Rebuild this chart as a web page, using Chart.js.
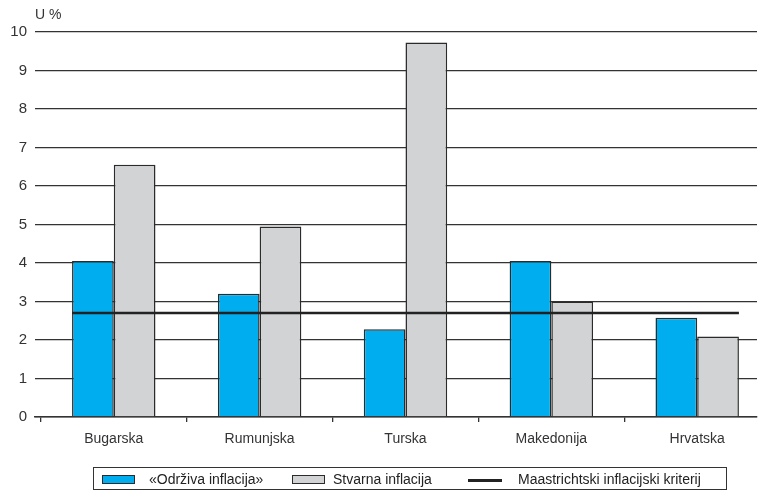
<!DOCTYPE html>
<html>
<head>
<meta charset="utf-8">
<script src="https://cdn.jsdelivr.net/npm/chart.js@4.4.1/dist/chart.umd.min.js"></script>
<style>
  body { margin: 0; background: #fff; font-family: "Liberation Sans", Arial, sans-serif; }
  #wrap { position: relative; width: 760px; height: 492px; overflow: hidden; }
  #unit { position: absolute; left: 35px; top: 7px; font-size: 14px; line-height: 14px; color: #333; }
  #legend { position: absolute; left: 93px; top: 467px; width: 632px; height: 21px; border: 1px solid #333; }
  #legend .sw { position: absolute; top: 7px; width: 31px; height: 7px; border: 1.5px solid #2b2b2b; }
  #legend .ln { position: absolute; top: 11px; width: 34px; height: 3px; background: #222; }
  #legend .tx { position: absolute; top: 1px; font-size: 14px; line-height: 21px; color: #222; white-space: nowrap; }
</style>
</head>
<body>
<div id="wrap">
  <canvas id="myChart" width="760" height="492"></canvas>
  <div id="unit">U %</div>
  <div id="legend">
    <div class="sw" style="left:8px;background:#00AEEF"></div>
    <div class="tx" style="left:55px">«Održiva inflacija»</div>
    <div class="sw" style="left:198px;background:#D1D3D4"></div>
    <div class="tx" style="left:239px">Stvarna inflacija</div>
    <div class="ln" style="left:374px"></div>
    <div class="tx" style="left:424px">Maastrichtski inflacijski kriterij</div>
  </div>
</div>
<script>
const categories = ['Bugarska', 'Rumunjska', 'Turska', 'Makedonija', 'Hrvatska'];
const odrziva = [4.05, 3.2, 2.28, 4.05, 2.58];
const stvarna = [6.55, 4.95, 9.73, 3.0, 2.09];
const maastricht = 2.7;
const yTicks = [0, 1, 2, 3, 4, 5, 6, 7, 8, 9, 10];

const font = 'Liberation Sans, Arial, sans-serif';
const catPct = 0.572;
const half = catPct / 2;

function renderChart() {
    const ctx = document.getElementById('myChart');
    return new Chart(ctx, {
        type: 'bar',
        data: {
            datasets: [{
                type: 'line',
                label: 'Maastrichtski inflacijski kriterij',
                data: [{x: -half, y: maastricht}, {x: categories.length - 1 + half, y: maastricht}],
                borderColor: '#222',
                borderWidth: 2.6,
                pointRadius: 0,
                order: 0
            }, {
                label: '«Održiva inflacija»',
                data: odrziva.map((v, i) => ({x: i, y: v})),
                backgroundColor: '#00AEEF',
                borderColor: '#2b2b2b',
                borderWidth: 1.5,
                categoryPercentage: catPct,
                barPercentage: 1,
                order: 1
            }, {
                label: 'Stvarna inflacija',
                data: stvarna.map((v, i) => ({x: i, y: v})),
                backgroundColor: '#D1D3D4',
                borderColor: '#2b2b2b',
                borderWidth: 1.5,
                categoryPercentage: catPct,
                barPercentage: 1,
                order: 1
            }]
        },
        options: {
            responsive: false,
            animation: false,
            layout: { padding: { top: 32, right: 3, left: 0, bottom: 0 } },
            plugins: { legend: { display: false }, tooltip: { enabled: false } },
            scales: {
                x: {
                    type: 'linear',
                    min: -0.54,
                    max: 4.41,
                    offset: false,
                    afterBuildTicks: s => { s.ticks = categories.map((c, i) => ({value: i})); },
                    afterFit: s => { s.height = 75; },
                    ticks: {
                        callback: v => categories[v],
                        color: '#333',
                        font: { size: 14, family: font },
                        padding: 9,
                        maxRotation: 0,
                        autoSkip: false
                    },
                    grid: {
                        offset: true,
                        drawOnChartArea: false,
                        drawTicks: true,
                        tickLength: 5,
                        color: '#333',
                        lineWidth: 1.3
                    },
                    border: { display: true, color: '#333', width: 1.5 }
                },
                y: {
                    min: 0,
                    max: 10,
                    afterBuildTicks: s => { s.ticks = yTicks.map(v => ({value: v})); },
                    afterFit: s => { s.width = 35; },
                    ticks: {
                        color: '#333',
                        font: { size: 15, family: font },
                        padding: 8
                    },
                    grid: { color: '#333', lineWidth: 1.3, drawTicks: false },
                    border: { display: false }
                }
            }
        }
    });
}

renderChart();
</script>
</body>
</html>
